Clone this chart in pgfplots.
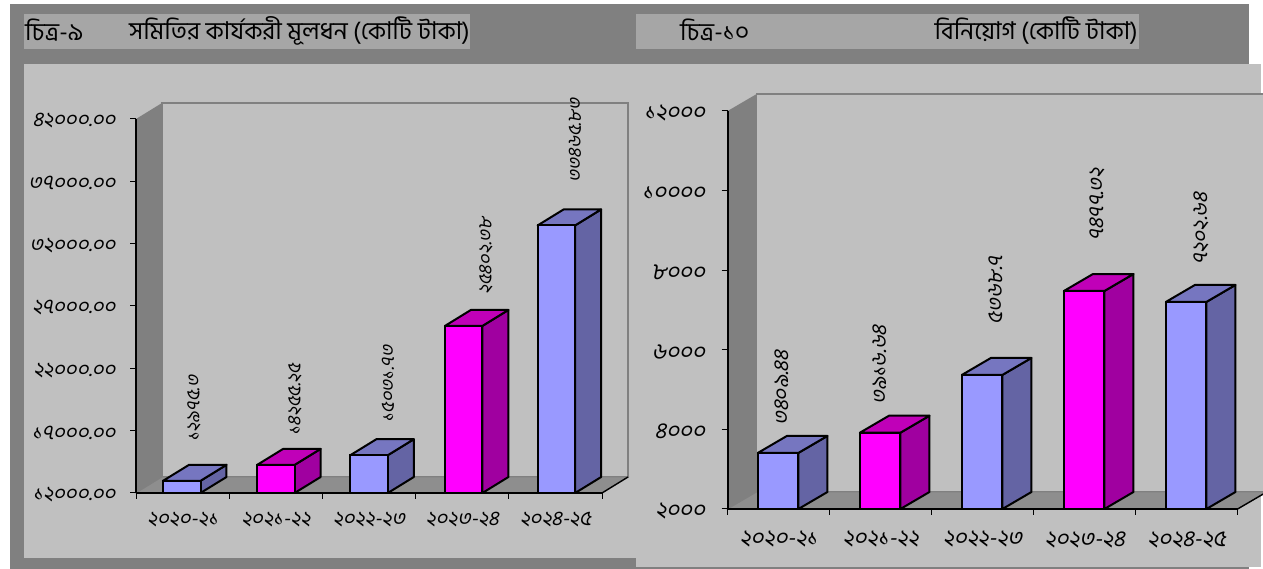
\documentclass[border=0pt]{standalone}
\usepackage{fontspec}
\usepackage{pgfplots}
\pgfplotsset{compat=1.18}
\newfontfamily\bn[Script=Bengali]{Hind Siliguri}
\newfontfamily\bnit[Script=Bengali,FakeSlant=0.2]{Hind Siliguri}
\newcommand{\sz}[1]{\fontsize{#1}{#1}\selectfont}
\definecolor{frame}{HTML}{808080}
\definecolor{panel}{HTML}{C0C0C0}
\definecolor{titlebox}{HTML}{A6A6A6}
\definecolor{floorc}{HTML}{8E8E8E}
\definecolor{bluef}{HTML}{9999FF}
\definecolor{bluet}{HTML}{7676C0}
\definecolor{blues}{HTML}{6464A4}
\definecolor{magf}{HTML}{FF00FF}
\definecolor{magt}{HTML}{C000B8}
\definecolor{mags}{HTML}{A000A0}

% one 3d column: left x, value, front, top and side colour
\newcommand{\column}[5]{%
  \edef\xb{\fpeval{#1+\barw}}\edef\xm{\fpeval{#1+\barw/2}}\edef\xc{\fpeval{#1+\barw+\depx}}%
  \edef\xd{\fpeval{#1+\depx}}\edef\yt{\fpeval{#2+\depy}}\edef\yb{\fpeval{\ybase+\depy}}%
  \addplot[draw=black,line width=2pt,line join=round,fill=#5] coordinates {(\xb,\ybase)(\xc,\yb)(\xc,\yt)(\xb,#2)} -- cycle;
  \addplot[draw=black,line width=2pt,line join=round,fill=#4] coordinates {(#1,#2)(\xb,#2)(\xc,\yt)(\xd,\yt)} -- cycle;
  \addplot[ybar,bar width=\barpt,bar shift=0pt,draw=black,line width=2pt,fill=#3] coordinates {(\xm,#2)};
}
% walls and floor behind the columns
\newcommand{\walls}[1]{%
  \edef\xr{\fpeval{5+\depx}}\edef\yb{\fpeval{\ybase+\depy}}\edef\yt{\fpeval{#1+\depy}}%
  \addplot[draw=frame,line width=1.5pt,fill=panel] coordinates {(\depx,\yb)(\depx,\yt)(\xr,\yt)(\xr,\yb)} -- cycle;
  \addplot[draw=frame,line width=.8pt,fill=floorc] coordinates {(0,\ybase)(5,\ybase)(\xr,\yb)(\depx,\yb)} -- cycle;
  \addplot[draw=black,line width=1.4pt] coordinates {(5,\ybase)(\xr,\yb)};
  \addplot[draw=none,fill=frame] coordinates {(0,\ybase)(\depx,\yb)(\depx,\yt)(0,#1)} -- cycle;
}
\pgfplotsset{
  chart/.style={
    scale only axis, clip=false, axis on top, scaled y ticks=false,
    xmin=0, xmax=5,
    axis x line*=bottom, axis y line*=left,
    axis line style={black,line width=2pt,-},
    tick align=outside, major tick length=6pt,
    tick style={black,line width=1pt},
    xtick={0,1,2,3,4,5},
    x tick label as interval,
    xticklabels={২০২০-২১,২০২১-২২,২০২২-২৩,২০২৩-২৪,২০২৪-২৫},
  },
  vals/.style={draw=none,mark=none,point meta=explicit symbolic,nodes near coords,
    nodes near coords style={yshift=-2pt,rotate=90,anchor=west,inner sep=0pt,
      font=\bnit\sz{#1}}},
}

\begin{document}
\begin{tikzpicture}[x=1pt,y=1pt]
\path[use as bounding box,fill=white] (0,0) rectangle (1263,569);
\fill[frame] (10,0) rectangle (1249,565);
\fill[panel] (24,11) rectangle (640,505);
\fill[panel] (636,2) rectangle (1261,505);
\fill[titlebox] (24,520) rectangle (470,555);
\fill[titlebox] (636,520) rectangle (1139,555);
\node[anchor=west,inner sep=0pt,font=\bn\sz{24.5}] at (25,538.5) {চিত্র-৯};
\node[anchor=east,inner sep=0pt,font=\bn\sz{24.5}] at (470,538.5) {সমিতির কার্যকরী মূলধন (কোটি টাকা)};
\node[anchor=west,inner sep=0pt,font=\bn\sz{24.5}] at (680,538.5) {চিত্র-১০};
\node[anchor=east,inner sep=0pt,font=\bn\sz{24.5}] at (1138,538.5) {বিনিয়োগ (কোটি টাকা)};

\begin{axis}[chart,anchor=south west,at={(136pt,76pt)},width=466pt,height=374pt,
  tick label style={font=\bnit\sz{20.5}},
  xticklabel style={yshift=-10pt},
  yticklabel style={xshift=-11pt,yshift=-2pt},
  ymin=12000,ymax=42000,ytick={12000,17000,22000,27000,32000,37000,42000},
  yticklabels={১২০০০.০০,১৭০০০.০০,২২০০০.০০,২৭০০০.০০,৩২০০০.০০,৩৭০০০.০০,৪২০০০.০০}]
\def\ybase{12000}\def\depx{0.279}\def\depy{1283}\def\barw{0.402}\def\barpt{37.5pt}
\walls{42000}
\column{0.29}{12975.3}{bluef}{bluet}{blues}
\column{1.30}{14255.25}{magf}{magt}{mags}
\column{2.30}{15031.73}{bluef}{bluet}{blues}
\column{3.315}{25402.38}{magf}{magt}{mags}
\column{4.31}{33465.83}{bluef}{bluet}{blues}
\addplot[vals=18.5] coordinates {(0.622,16250)[১২৯৭৫.৩] (1.706,16732)[১৪২৫৫.২৫] (2.704,17774)[১৫০৩১.৭৩] (3.755,28040)[২৫৪০২.৩৮] (4.71,37020)[৩৩৪৬৫.৮৩]};
\end{axis}

\begin{axis}[chart,anchor=south west,at={(727.6pt,60pt)},width=510pt,height=398pt,
  tick label style={font=\bnit\sz{22.5}},
  xticklabel style={yshift=-13pt},
  yticklabel style={xshift=-13pt,yshift=-2pt},
  ymin=2000,ymax=12000,ytick={2000,4000,6000,8000,10000,12000},
  yticklabels={২০০০,৪০০০,৬০০০,৮০০০,১০০০০,১২০০০}]
\def\ybase{2000}\def\depx{0.285}\def\depy{427}\def\barw{0.397}\def\barpt{40.5pt}
\walls{12000}
\column{0.297}{3409.44}{bluef}{bluet}{blues}
\column{1.297}{3916.64}{magf}{magt}{mags}
\column{2.297}{5368.7}{bluef}{bluet}{blues}
\column{3.297}{7477.32}{magf}{magt}{mags}
\column{4.297}{7202.64}{bluef}{bluet}{blues}
\addplot[vals=21] coordinates {(0.533,4136)[৩৪০৯.৪৪] (1.494,4663)[৩৯১৬.৬৪] (2.631,6673)[৫৩৬৮.৭] (3.622,8784)[৭৪৭৭.৩২] (4.641,8181)[৭২০২.৬৪]};
\end{axis}
\end{tikzpicture}
\end{document}
